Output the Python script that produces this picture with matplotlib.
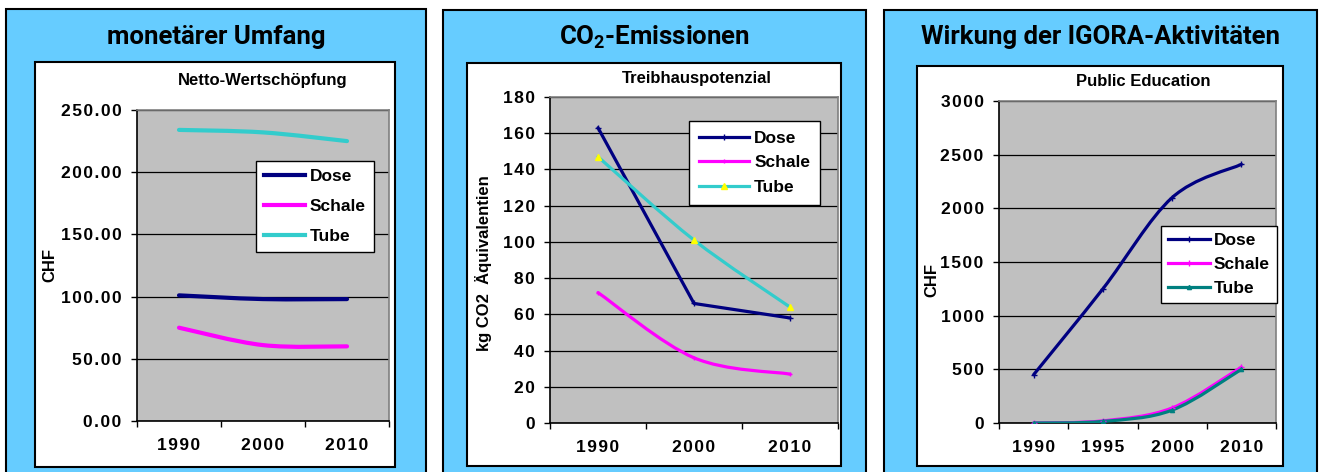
import matplotlib
matplotlib.use('Agg')
import matplotlib.pyplot as plt
from matplotlib.patches import Rectangle, PathPatch
from matplotlib.path import Path
from matplotlib.lines import Line2D
from matplotlib.ticker import FixedLocator, FuncFormatter

# Netto-Wertschoepfung (CHF)
years1 = ['1990', '2000', '2010']
nws_dose = [101, 98, 98]
nws_schale = [75, 61, 60]
nws_tube = [234, 232, 225]

# Treibhauspotenzial (kg CO2 Aequivalentien)
years2 = ['1990', '2000', '2010']
co2_dose = [163, 66, 58]
co2_schale = [72, 36, 27]
co2_tube = [147, 101, 64]

# Public Education (CHF)
years3 = ['1990', '1995', '2000', '2010']
edu_dose = [450, 1250, 2100, 2410]
edu_schale = [0, 20, 140, 520]
edu_tube = [0, 15, 120, 500]

names = ['Dose', 'Schale', 'Tube']

W, H = 1320, 472
fig = plt.figure(figsize=(W / 100, H / 100), dpi=100)
fig.patch.set_facecolor('white')

FONT = ['Liberation Sans', 'DejaVu Sans']
TITLEFONT = ['Roboto', 'Liberation Sans', 'DejaVu Sans']
plt.rcParams['font.family'] = FONT
plt.rcParams['mathtext.fontset'] = 'custom'
plt.rcParams['mathtext.rm'] = 'Roboto:bold'
plt.rcParams['mathtext.it'] = 'Roboto:bold'
plt.rcParams['mathtext.bf'] = 'Roboto:bold'


def box(x0, y0, x1, y1):
    # pixel box -> figure fraction [l, b, w, h]
    return [x0 / W, 1 - y1 / H, (x1 - x0) / W, (y1 - y0) / H]


def rect(x0, y0, x1, y1, fc, lw):
    l, b, w, h = box(x0, y0, x1, y1)
    fig.patches.append(Rectangle((l, b), w, h, transform=fig.transFigure,
                                 facecolor=fc, edgecolor='black', lw=lw, zorder=-5))


def spaced(s):
    return '\u200a'.join(s)


def smooth_path(xs, ys):
    pts = list(zip(xs, ys))
    n = len(pts)
    verts = [pts[0]]
    codes = [Path.MOVETO]
    for i in range(n - 1):
        p0 = pts[max(i - 1, 0)]
        p1 = pts[i]
        p2 = pts[i + 1]
        p3 = pts[min(i + 2, n - 1)]
        c1 = (p1[0] + (p2[0] - p0[0]) / 6, p1[1] + (p2[1] - p0[1]) / 6)
        c2 = (p2[0] - (p3[0] - p1[0]) / 6, p2[1] - (p3[1] - p1[1]) / 6)
        verts += [c1, c2, p2]
        codes += [Path.CURVE4] * 3
    return Path(verts, codes)


def panel(outer, inner, axbox, title, subtitle, subxy, ylabel, ylabxy,
          cats, series, colors, smooth, markers, ymax, ystep, yfmt,
          lw, legpos, legkw):
    rect(*outer, '#66CCFF', 1.5)
    rect(*inner, 'white', 1.5)
    cx = (outer[0] + outer[2]) / 2
    fig.text(cx / W, 1 - 37 / H, title, ha='center', va='center',
             fontsize=18.5, fontweight='bold', family=TITLEFONT)
    fig.text(subxy[0] / W, 1 - subxy[1] / H, subtitle, ha='center', va='center',
             fontsize=12, fontweight='bold')
    fig.text(ylabxy[0] / W, 1 - ylabxy[1] / H, ylabel, ha='center', va='center',
             rotation=90, fontsize=12, fontweight='bold')

    ax = fig.add_axes(box(*axbox))
    ax.set_facecolor('#C0C0C0')
    x = list(range(1, len(cats) + 1))
    for vals, c, sm, mk in zip(series, colors, smooth, markers):
        if sm:
            ax.add_patch(PathPatch(smooth_path(x, vals), facecolor='none',
                                   edgecolor=c, lw=lw, capstyle='round', zorder=3))
        else:
            ax.plot(x, vals, color=c, lw=lw, zorder=3, solid_capstyle='round')
        if mk is not None:
            ax.plot(x, vals, ls='none', marker=mk[0], ms=mk[2], color=mk[1],
                    mec=mk[1], zorder=4)

    ax.set_xlim(0.5, len(cats) + 0.5)
    ax.set_ylim(0, ymax)
    ax.set_xticks(x)
    ax.set_xticklabels([spaced(c) for c in cats])
    ax.xaxis.set_minor_locator(FixedLocator([i + 0.5 for i in range(len(cats) + 1)]))
    yt = [i * ystep for i in range(int(round(ymax / ystep)) + 1)]
    ax.set_yticks(yt)
    ax.yaxis.set_major_formatter(FuncFormatter(lambda v, p: spaced(yfmt % v)))
    ax.tick_params(axis='x', which='major', length=0, pad=12, labelsize=12.5)
    ax.tick_params(axis='x', which='minor', length=4, width=1, direction='out')
    ax.tick_params(axis='y', length=4, width=1, direction='out', pad=7, labelsize=12.5)
    for lab in ax.get_xticklabels() + ax.get_yticklabels():
        lab.set_fontweight('bold')
    ax.yaxis.grid(True, color='black', lw=0.9)
    ax.set_axisbelow(True)
    ax.spines['left'].set_color('black')
    ax.spines['bottom'].set_color('black')
    ax.spines['top'].set_color('#808080')
    ax.spines['right'].set_color('#808080')
    for s in ax.spines.values():
        s.set_linewidth(1.2)

    handles = []
    for name, c, mk in zip(names, colors, markers):
        if mk is None:
            handles.append(Line2D([], [], color=c, lw=lw, label=name))
        else:
            handles.append(Line2D([], [], color=c, lw=lw, marker=mk[0], ms=mk[2],
                                  mfc=mk[1], mec=mk[1], label=name))
    leg = fig.legend(handles=handles, loc='upper left',
                     bbox_to_anchor=(legpos[0] / W, 1 - legpos[1] / H),
                     bbox_transform=fig.transFigure, borderaxespad=0,
                     fancybox=False, framealpha=1, edgecolor='black',
                     prop={'weight': 'bold', 'size': 12.5}, markerscale=1,
                     **legkw)
    leg.get_frame().set_linewidth(1.0)
    return ax


panel((6, 9, 426, 480), (35, 62, 395, 467), (137, 110, 389, 421),
      'monetärer Umfang', 'Netto-Wertschöpfung', (263, 81),
      'CHF', (50, 265), years1, [nws_dose, nws_schale, nws_tube],
      ['#000080', '#FF00FF', '#33CCCC'], [True, True, True],
      [None, None, None], 250, 50, '%.2f', 3.0, (256, 161),
      dict(handlelength=2.4, handletextpad=0.25, labelspacing=0.85, borderpad=0.45))

panel((443, 10, 866, 480), (467, 63, 841, 466), (550, 97, 838, 423),
      'CO$_2$-Emissionen', 'Treibhauspotenzial', (697, 79),
      'kg CO2  Äquivalentien', (484, 263), years2, [co2_dose, co2_schale, co2_tube],
      ['#000080', '#FF00FF', '#33CCCC'], [False, True, True],
      [('+', '#000080', 4), ('+', '#FF00FF', 3), ('^', '#FFFF00', 4)],
      180, 20, '%d', 2.3, (689, 121),
      dict(handlelength=2.9, handletextpad=0.3, labelspacing=0.55, borderpad=0.55))

panel((884, 10, 1317, 480), (917, 66, 1283, 466), (999, 101, 1276, 423),
      'Wirkung der IGORA-Aktivitäten', 'Public Education', (1143, 82),
      'CHF', (932, 280), years3, [edu_dose, edu_schale, edu_tube],
      ['#000080', '#FF00FF', '#008080'], [True, True, True],
      [('+', '#000080', 4), ('+', '#FF00FF', 4), ('^', '#008080', 3)],
      3000, 500, '%d', 2.3, (1161, 226),
      dict(handlelength=2.4, handletextpad=0.25, labelspacing=0.5, borderpad=0.4))

fig.savefig('out.png', dpi=100)
